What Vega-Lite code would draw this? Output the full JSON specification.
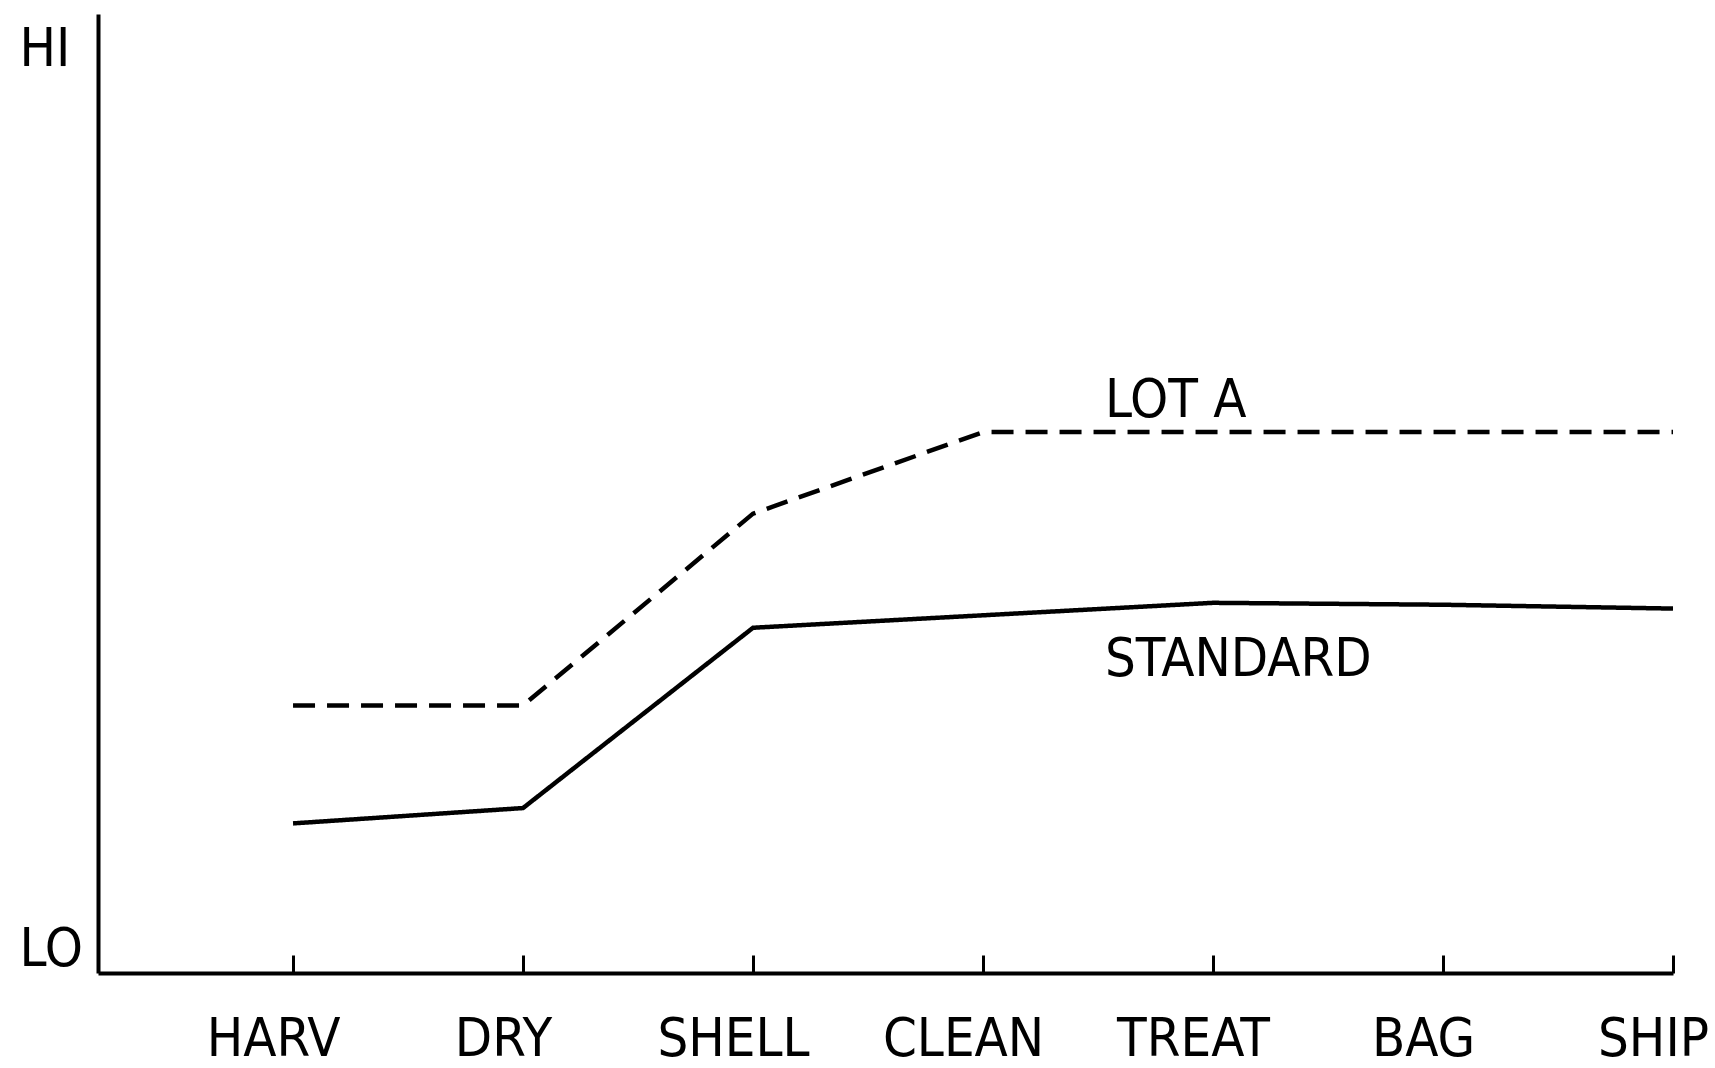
{
  "$schema": "https://vega.github.io/schema/vega-lite/v6.json",
  "width": 1575,
  "height": 959,
  "autosize": {"type": "none"},
  "padding": {"left": 98, "top": 14, "right": 42, "bottom": 95},
  "background": "white",
  "config": {
    "view": {"stroke": null},
    "font": "Liberation Sans Narrow, DejaVu Sans Condensed, sans-serif"
  },
  "datasets": {
    "lines": [
      {"stage": "HARV", "i": 0, "series": "STANDARD", "v": 15.6},
      {"stage": "DRY", "i": 1, "series": "STANDARD", "v": 17.2},
      {"stage": "SHELL", "i": 2, "series": "STANDARD", "v": 36.0},
      {"stage": "CLEAN", "i": 3, "series": "STANDARD", "v": 37.3},
      {"stage": "TREAT", "i": 4, "series": "STANDARD", "v": 38.6},
      {"stage": "BAG", "i": 5, "series": "STANDARD", "v": 38.4},
      {"stage": "SHIP", "i": 6, "series": "STANDARD", "v": 38.0},
      {"stage": "HARV", "i": 0, "series": "LOT A", "v": 27.9},
      {"stage": "DRY", "i": 1, "series": "LOT A", "v": 27.9},
      {"stage": "SHELL", "i": 2, "series": "LOT A", "v": 47.9},
      {"stage": "CLEAN", "i": 3, "series": "LOT A", "v": 56.4},
      {"stage": "TREAT", "i": 4, "series": "LOT A", "v": 56.4},
      {"stage": "BAG", "i": 5, "series": "LOT A", "v": 56.4},
      {"stage": "SHIP", "i": 6, "series": "LOT A", "v": 56.4}
    ],
    "labels": [
      {"label": "LOT A", "i": 3.53, "v": 58.0},
      {"label": "STANDARD", "i": 3.53, "v": 31.0}
    ]
  },
  "layer": [
    {
      "data": {"name": "lines"},
      "mark": {"type": "line", "color": "black", "strokeWidth": 4.5},
      "encoding": {
        "x": {
          "field": "i",
          "type": "quantitative",
          "scale": {"domain": [-0.848, 6], "nice": false, "zero": false},
          "axis": {
            "title": null,
            "values": [0, 1, 2, 3, 4, 5, 6],
            "labelExpr": "['HARV','DRY','SHELL','CLEAN','TREAT','BAG','SHIP'][datum.value]",
            "grid": false,
            "domainColor": "black",
            "domainWidth": 4,
            "tickColor": "black",
            "tickWidth": 3,
            "tickSize": -18,
            "labelFontSize": 54,
            "labelColor": "black",
            "labelBaseline": "alphabetic",
            "labelPadding": 100,
            "labelOffset": -20,
            "labelFlush": false,
            "labelOverlap": false
          }
        },
        "y": {
          "field": "v",
          "type": "quantitative",
          "scale": {"domain": [0, 100], "nice": false},
          "axis": {
            "title": null,
            "values": [0.83, 94.6],
            "labelExpr": "datum.value > 50 ? 'HI' : 'LO'",
            "grid": false,
            "ticks": false,
            "tickSize": 0,
            "domainColor": "black",
            "domainWidth": 4,
            "labelFontSize": 54,
            "labelColor": "black",
            "labelAlign": "left",
            "labelBaseline": "alphabetic",
            "labelPadding": 79,
            "labelFlush": false,
            "labelOverlap": false
          }
        },
        "detail": {"field": "series"},
        "strokeDash": {
          "field": "series",
          "type": "nominal",
          "scale": {"domain": ["LOT A", "STANDARD"], "range": [[22, 12], [1, 0]]},
          "legend": null
        }
      }
    },
    {
      "data": {"name": "labels"},
      "mark": {"type": "text", "align": "left", "baseline": "alphabetic", "fontSize": 54, "color": "black"},
      "encoding": {
        "x": {"field": "i", "type": "quantitative"},
        "y": {"field": "v", "type": "quantitative"},
        "text": {"field": "label"}
      }
    }
  ]
}
